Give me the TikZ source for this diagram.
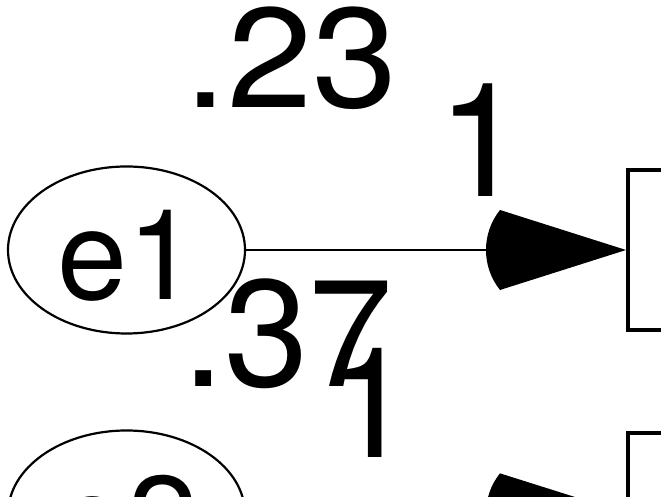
\documentclass[tikz,border=0pt]{standalone}
\usepackage{fontspec}
\setmainfont{TeX Gyre Heros}
\usetikzlibrary{arrows.meta,shapes.geometric}
\pgfdeclarearrow{
  name = SEMhead,
  setup code = {
    \pgfarrowssettipend{0pt}
    \pgfarrowssetlineend{-100pt}
    \pgfarrowssetbackend{-140pt}
    \pgfarrowshullpoint{0pt}{0pt}
    \pgfarrowsupperhullpoint{-126pt}{40pt}
    \pgfarrowsupperhullpoint{-140pt}{0pt}
  },
  drawing code = {
    \pgfpathmoveto{\pgfpointorigin}
    \pgfpathlineto{\pgfpoint{-126pt}{40pt}}
    \pgfpatharc{141.34}{218.66}{64.03pt}
    \pgfpathclose
    \pgfusepathqfill
  }
}
\begin{document}
\begin{tikzpicture}[x=1pt,y=1pt,
  latent/.style={draw, ellipse, line width=2.2pt, minimum width=237pt, minimum height=167pt, inner sep=0pt},
  observed/.style={draw, rectangle, line width=4pt, minimum width=120pt, minimum height=160pt, inner sep=0pt},
  regpath/.style={line width=1.5pt, -{SEMhead}},
  lbl/.style={inner sep=0pt, anchor=base west}]
\useasboundingbox (0,0) rectangle (661,497);
\clip (0,0) rectangle (661,497);
\node[latent] (e1) at (126.5,247) {};
\node[observed] (b1) at (688,247) {};
\node[latent] (e2) at (126.5,-17) {};
\node[observed] (b2) at (688,-16) {};
\draw[regpath] (e1) -- (b1);
\draw[regpath] (e2) -- (b2);
\node[lbl, font=\fontsize{126}{126}\selectfont] (t1) at (57,197) {e1};
\node[lbl, font=\fontsize{126}{126}\selectfont] (t2) at (57,-67.6) {e2};
\node[lbl, font=\fontsize{142}{142}\selectfont, xscale=1.08, transform shape] (v1) at (184.7,389) {.23};
\node[lbl, font=\fontsize{159}{159}\selectfont] (w1) at (437,300) {1};
\node[lbl, font=\fontsize{152}{152}\selectfont] (v2) at (182,110) {.37};
\node[lbl, font=\fontsize{154}{154}\selectfont] (w2) at (328,39) {1};
\end{tikzpicture}
\end{document}
